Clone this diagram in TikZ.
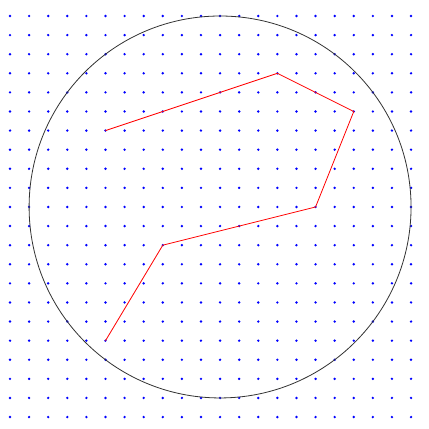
\documentclass[tikz,border=0pt]{standalone}
\begin{document}
\begin{tikzpicture}[
  gridDot/.style={fill=blue, draw=none},
  outline/.style={draw=black!80, line width=1.2pt},
  route/.style={draw=red, line width=1.2pt, line join=miter}
]
\useasboundingbox (-0.524,-21.62) rectangle (21.94,0.838);
\foreach \i in {0,...,21}{
  \foreach \j in {0,...,21}{
    \fill[gridDot] (\i,-\j) circle (0.07);
  }
}
\coordinate (c) at (11,-10);
\draw[outline] (c) circle (10);
\coordinate (p1) at (5,-6);
\coordinate (p2) at (14,-3);
\coordinate (p3) at (18,-5);
\coordinate (p4) at (16,-10);
\coordinate (p5) at (8,-12);
\coordinate (p6) at (5,-17);
\draw[route] (p1) -- (p2) -- (p3) -- (p4) -- (p5) -- (p6);
\end{tikzpicture}
\end{document}
